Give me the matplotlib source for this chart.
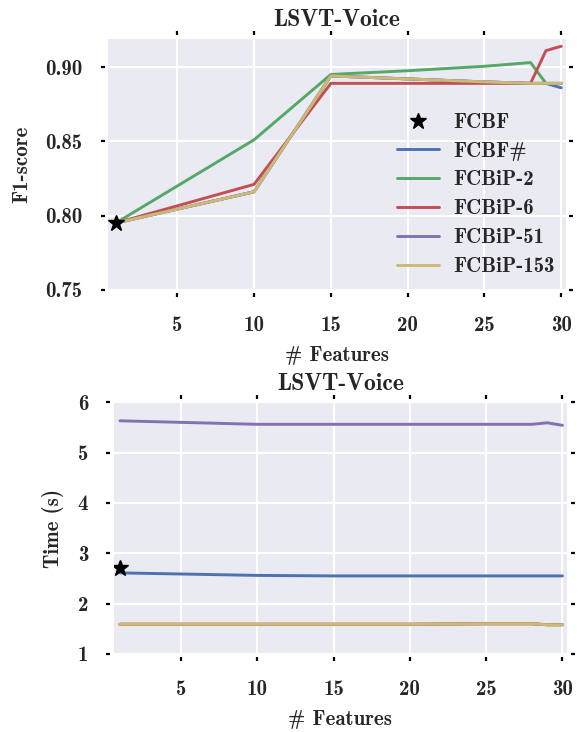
import matplotlib
matplotlib.use("Agg")
import matplotlib.pyplot as plt
import seaborn as sns

sns.set_style("darkgrid")
plt.rcParams['font.family'] = ['cmb10', 'DejaVu Serif']
plt.rcParams['axes.formatter.use_mathtext'] = False
plt.rcParams['grid.linewidth'] = 1.5

# datos
features = [1, 10, 15, 20, 25, 28, 29, 30]
fcbf_x = [1]
fcbf_f1 = [0.795]
fcbf_time = [2.71]

f1_fcbfsharp = [0.795, 0.816, 0.894, 0.892, 0.890, 0.889, 0.889, 0.886]
f1_fcbip2 = [0.795, 0.851, 0.895, 0.8975, 0.9005, 0.903, 0.889, 0.889]
f1_fcbip6 = [0.795, 0.821, 0.889, 0.889, 0.889, 0.889, 0.911, 0.914]
f1_fcbip51 = [0.795, 0.816, 0.894, 0.892, 0.890, 0.889, 0.889, 0.889]
f1_fcbip153 = [0.795, 0.816, 0.894, 0.892, 0.890, 0.889, 0.889, 0.889]

t_fcbfsharp = [2.61, 2.56, 2.55, 2.55, 2.55, 2.55, 2.55, 2.55]
t_fcbip2 = [1.59, 1.59, 1.59, 1.59, 1.60, 1.60, 1.58, 1.58]
t_fcbip6 = [1.59, 1.59, 1.59, 1.59, 1.60, 1.60, 1.58, 1.58]
t_fcbip51 = [5.63, 5.56, 5.56, 5.56, 5.56, 5.56, 5.59, 5.54]
t_fcbip153 = [1.59, 1.59, 1.59, 1.59, 1.60, 1.60, 1.58, 1.58]

nombres = ["FCBF#", "FCBiP-2", "FCBiP-6", "FCBiP-51", "FCBiP-153"]
colores = ["#4C72B0", "#55A868", "#C44E52", "#8172B2", "#CCB974"]
f1_series = [f1_fcbfsharp, f1_fcbip2, f1_fcbip6, f1_fcbip51, f1_fcbip153]
t_series = [t_fcbfsharp, t_fcbip2, t_fcbip6, t_fcbip51, t_fcbip153]

fig = plt.figure(figsize=(5.81, 7.32), dpi=100)
ax1 = fig.add_axes([0.186, 0.604, 0.788, 0.343])
ax2 = fig.add_axes([0.196, 0.1066, 0.780, 0.344])


def estilo(ax):
    for s in ax.spines.values():
        s.set_visible(False)
        s.set_position(("outward", 2.5))
    ax.tick_params(axis="both", which="major", direction="out", length=3, width=1.6,
                   color="black", top=True, right=True, bottom=True, left=True,
                   labeltop=False, labelright=False, pad=13, labelsize=15)
    ax.set_xticks([5, 10, 15, 20, 25, 30])
    ax.set_xlabel("# Features", fontsize=15, labelpad=8)
    ax.set_title("LSVT-Voice", fontsize=17, pad=9)


# F1
ax1.plot(fcbf_x, fcbf_f1, "*", color="black", markersize=12, label="FCBF", zorder=5)
for serie, nombre, color in zip(f1_series, nombres, colores):
    ax1.plot(features, serie, color=color, lw=2.1, label=nombre)
ax1.set_xlim(0.5, 30.3)
ax1.set_ylim(0.75, 0.919)
ax1.set_yticks([0.75, 0.80, 0.85, 0.90])
ax1.set_yticklabels(["0.75", "0.80", "0.85", "0.90"])
ax1.set_ylabel("F1-score", fontsize=15, labelpad=10)
estilo(ax1)
ax1.legend(loc="upper left", bbox_to_anchor=(0.631, 0.705), frameon=False,
           borderpad=0, borderaxespad=0, handlelength=2, handletextpad=0.7,
           labelspacing=0.47, numpoints=1, fontsize=15)

# Tiempo
ax2.plot(fcbf_x, fcbf_time, "*", color="black", markersize=12, label="FCBF", zorder=5)
for serie, nombre, color in zip(t_series, nombres, colores):
    ax2.plot(features, serie, color=color, lw=2.1, label=nombre)
ax2.set_xlim(0.6, 30.3)
ax2.set_ylim(1, 6)
ax2.set_yticks([1, 2, 3, 4, 5, 6])
ax2.set_ylabel("Time (s)", fontsize=15, labelpad=10)
estilo(ax2)

fig.savefig("out.png", dpi=100)
